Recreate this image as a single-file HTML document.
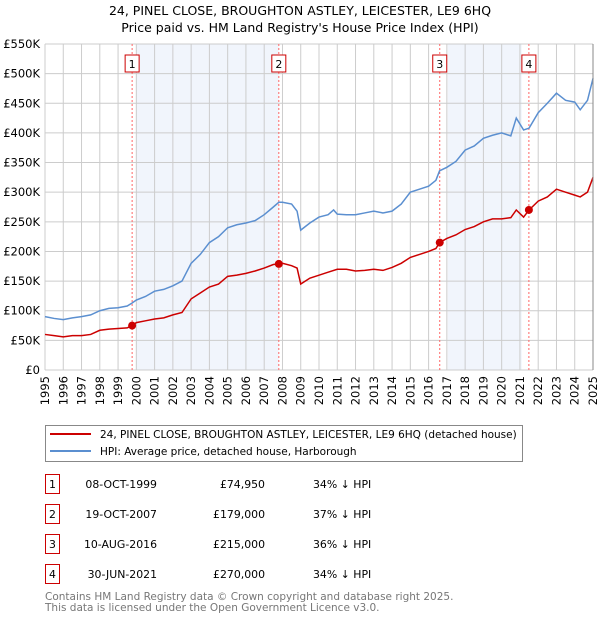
<!DOCTYPE html>
<html><head><meta charset="utf-8"><style>
body{margin:0;background:#fff;font-family:"DejaVu Sans","Liberation Sans",sans-serif;}
svg text{font-family:"DejaVu Sans","Liberation Sans",sans-serif;}
</style></head><body>
<svg id="chart" width="600" height="620" xmlns="http://www.w3.org/2000/svg">
<text x="300" y="15" text-anchor="middle" font-size="12.5" fill="#000">24, PINEL CLOSE, BROUGHTON ASTLEY, LEICESTER, LE9 6HQ</text>
<text x="300" y="32" text-anchor="middle" font-size="12.5" fill="#000">Price paid vs. HM Land Registry's House Price Index (HPI)</text>
<g id="plot"></g>
<g>
<rect x="45.5" y="425.5" width="477" height="36" fill="#fff" stroke="#888"/>
<line x1="50" y1="434" x2="91" y2="434" stroke="#cc0000" stroke-width="2"/>
<text x="100" y="438" font-size="10.5">24, PINEL CLOSE, BROUGHTON ASTLEY, LEICESTER, LE9 6HQ (detached house)</text>
<line x1="50" y1="451" x2="91" y2="451" stroke="#5b8fd0" stroke-width="2"/>
<text x="100" y="455" font-size="10.5">HPI: Average price, detached house, Harborough</text>
</g>
<g id="table" font-size="10.9"></g>
<text x="45" y="600" font-size="10.5" fill="#777">Contains HM Land Registry data © Crown copyright and database right 2025.</text>
<text x="45" y="611" font-size="10.5" fill="#777">This data is licensed under the Open Government Licence v3.0.</text>
</svg>
<script>
const hpiYears=[1995,1995.5,1996,1996.5,1997,1997.5,1998,1998.5,1999,1999.5,1999.77,2000,2000.5,2001,2001.5,2002,2002.5,2003,2003.5,2004,2004.5,2005,2005.5,2006,2006.5,2007,2007.5,2007.8,2008,2008.5,2008.8,2009,2009.5,2010,2010.5,2010.8,2011,2011.5,2012,2012.5,2013,2013.5,2014,2014.5,2015,2015.5,2016,2016.4,2016.6,2017,2017.5,2018,2018.5,2019,2019.5,2020,2020.5,2020.8,2021.2,2021.5,2022,2022.5,2023,2023.5,2024,2024.3,2024.7,2025];
const hpiValues=[90,87,85,88,90,93,100,104,105,108,113,118,124,133,136,142,150,180,195,215,225,240,245,248,252,262,275,283,283,280,268,236,248,258,262,270,263,262,262,265,268,265,268,280,300,305,310,320,336,342,352,371,378,391,396,400,395,425,405,408,434,450,467,455,452,439,455,492];
const ppYears=[1995,1995.5,1996,1996.5,1997,1997.5,1998,1998.5,1999,1999.5,1999.77,2000,2000.5,2001,2001.5,2002,2002.5,2003,2003.5,2004,2004.5,2005,2005.5,2006,2006.5,2007,2007.5,2007.8,2008,2008.5,2008.8,2009,2009.5,2010,2010.5,2011,2011.5,2012,2012.5,2013,2013.5,2014,2014.5,2015,2015.5,2016,2016.4,2016.6,2017,2017.5,2018,2018.5,2019,2019.5,2020,2020.5,2020.8,2021.2,2021.5,2022,2022.5,2023,2023.5,2024,2024.3,2024.7,2025];
const ppValues=[60,58,56,58,58,60,67,69,70,71,74.95,80,83,86,88,93,97,120,130,140,145,158,160,163,167,172,178,179,180,176,172,145,155,160,165,170,170,167,168,170,168,173,180,190,195,200,205,215,222,228,237,242,250,255,255,257,270,258,270,285,292,305,300,295,292,300,325];
const saleYears=[1999.77,2007.8,2016.61,2021.49];
const salePrices=[74.95,179,215,270];
const saleLabels=["1","2","3","4"];
const saleDates=["08-OCT-1999","19-OCT-2007","10-AUG-2016","30-JUN-2021"];
const salePriceText=["£74,950","£179,000","£215,000","£270,000"];
const saleHpiText=["34% ↓ HPI","37% ↓ HPI","36% ↓ HPI","34% ↓ HPI"];
const yTicks=[0,50,100,150,200,250,300,350,400,450,500,550];
const yTickLabels=["£0","£50K","£100K","£150K","£200K","£250K","£300K","£350K","£400K","£450K","£500K","£550K"];
const xTicks=[1995,1996,1997,1998,1999,2000,2001,2002,2003,2004,2005,2006,2007,2008,2009,2010,2011,2012,2013,2014,2015,2016,2017,2018,2019,2020,2021,2022,2023,2024,2025];
const shadeRanges=[[2000.0,2007.8],[2017.05,2021.1]];

const NS="http://www.w3.org/2000/svg";
const X0=45,X1=593,Y0=370,Y1=44;
const x=v=>X0+(v-1995)/30*(X1-X0);
const y=v=>Y0-v/550*(Y0-Y1);
const plot=document.getElementById('plot');
function mk(tag,attrs,parent){const e=document.createElementNS(NS,tag);for(const k in attrs)e.setAttribute(k,attrs[k]);(parent||plot).appendChild(e);return e;}
shadeRanges.forEach(r=>{
  const e=mk('rect',{x:x(r[0]),y:Y1,width:x(r[1])-x(r[0]),height:Y0-Y1,fill:'#eef2fb',opacity:0.8});
  
  
});
yTicks.forEach((t,i)=>{
  const l=mk('line',{x1:X0,x2:X1,y1:y(t),y2:y(t),stroke:'#cccccc'});
  
  
  const tx=mk('text',{x:X0-5,y:y(t)+4,'text-anchor':'end','font-size':'11.5'});
  tx.textContent=yTickLabels[i];
  
  
});
xTicks.forEach(t=>{
  const l=mk('line',{x1:x(t),x2:x(t),y1:Y1,y2:Y0,stroke:'#cccccc'});
  
  
  const tx=mk('text',{x:0,y:0,'text-anchor':'end','font-size':'11.5',transform:`translate(${x(t)+4},${Y0+6}) rotate(-90)`});
  tx.textContent=t;
  
  
});
saleYears.forEach((s,i)=>{
  const l=mk('line',{x1:x(s),x2:x(s),y1:Y1,y2:Y0,stroke:'#ff6666','stroke-dasharray':'2,2'});
  
  
  const b=mk('rect',{x:x(s)-7,y:55,width:14,height:17,fill:'#fff',stroke:'#cc0000'});
  
  
  const tx=mk('text',{x:x(s),y:68,'text-anchor':'middle','font-size':'11'});
  tx.textContent=saleLabels[i];
  
  
});
const hp=mk('polyline',{points:hpiYears.map((v,i)=>x(v)+','+y(hpiValues[i])).join(' '),fill:'none',stroke:'#5b8fd0','stroke-width':1.5});


const pp=mk('polyline',{points:ppYears.map((v,i)=>x(v)+','+y(ppValues[i])).join(' '),fill:'none',stroke:'#cc0000','stroke-width':1.5});


saleYears.forEach((s,i)=>{
  const c=mk('circle',{cx:x(s),cy:y(salePrices[i]),r:4,fill:'#cc0000'});
  
  
});
const ax=mk('line',{x1:X1,x2:X1,y1:Y1,y2:Y0,stroke:'#888'});



const tbl=document.getElementById('table');
saleLabels.forEach((lb,i)=>{
  const cy=484+i*30;
  const g=mk('g',{},tbl);
  
  
  mk('rect',{x:45.5,y:cy-9.5,width:14,height:19,fill:'#fff',stroke:'#cc0000'},g);
  const t1=mk('text',{x:52.5,y:cy+4,'text-anchor':'middle'},g);t1.textContent=lb;
  const t2=mk('text',{x:157,y:cy+4,'text-anchor':'end'},g);t2.textContent=saleDates[i];
  const t3=mk('text',{x:265,y:cy+4,'text-anchor':'end'},g);t3.textContent=salePriceText[i];
  const t4=mk('text',{x:313,y:cy+4},g);t4.textContent=saleHpiText[i];
});
</script>
</body></html>
